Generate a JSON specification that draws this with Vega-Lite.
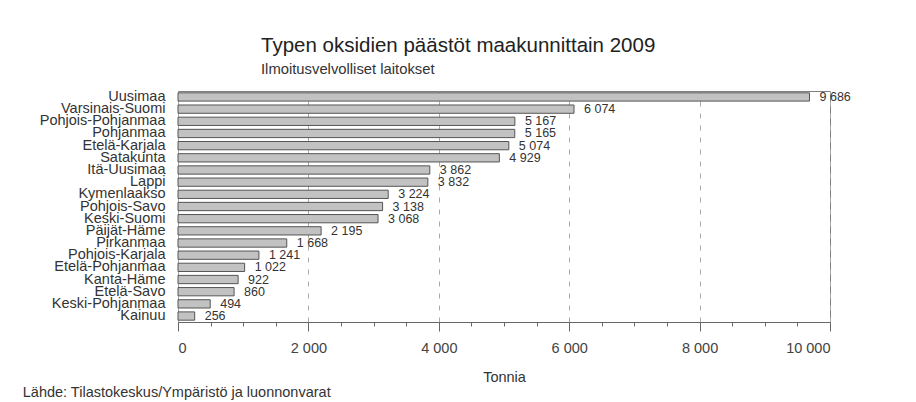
{
  "$schema": "https://vega.github.io/schema/vega-lite/v6.json",
  "background": "white",
  "padding": {"left": 22, "top": 35, "right": 10, "bottom": 2},
  "config": {
    "locale": {"number": {"decimal": ",", "thousands": " ", "grouping": [3], "currency": ["", " €"]}},
    "font": "Liberation Sans",
    "view": {"stroke": "#808080", "strokeWidth": 1}
  },
  "title": {
    "text": "Lähde: Tilastokeskus/Ympäristö ja luonnonvarat",
    "orient": "bottom", "anchor": "start", "frame": "bounds", "dx": -16,
    "fontSize": 14.5, "fontWeight": "normal", "color": "#333", "offset": 1
  },
  "vconcat": [
    {
      "width": 652,
      "height": 231,
      "title": {
        "text": "Typen oksidien päästöt maakunnittain 2009",
        "subtitle": "Ilmoitusvelvolliset laitokset",
        "anchor": "start", "frame": "group", "dx": 83,
        "fontSize": 20.5, "fontWeight": "normal", "color": "#222",
        "subtitleFontSize": 14.8, "subtitleColor": "#333", "subtitlePadding": 5,
        "offset": 12
      },
      "data": {
        "values": [
          {"maakunta": "Uusimaa", "tonnia": 9686},
          {"maakunta": "Varsinais-Suomi", "tonnia": 6074},
          {"maakunta": "Pohjois-Pohjanmaa", "tonnia": 5167},
          {"maakunta": "Pohjanmaa", "tonnia": 5165},
          {"maakunta": "Etelä-Karjala", "tonnia": 5074},
          {"maakunta": "Satakunta", "tonnia": 4929},
          {"maakunta": "Itä-Uusimaa", "tonnia": 3862},
          {"maakunta": "Lappi", "tonnia": 3832},
          {"maakunta": "Kymenlaakso", "tonnia": 3224},
          {"maakunta": "Pohjois-Savo", "tonnia": 3138},
          {"maakunta": "Keski-Suomi", "tonnia": 3068},
          {"maakunta": "Päijät-Häme", "tonnia": 2195},
          {"maakunta": "Pirkanmaa", "tonnia": 1668},
          {"maakunta": "Pohjois-Karjala", "tonnia": 1241},
          {"maakunta": "Etelä-Pohjanmaa", "tonnia": 1022},
          {"maakunta": "Kanta-Häme", "tonnia": 922},
          {"maakunta": "Etelä-Savo", "tonnia": 860},
          {"maakunta": "Keski-Pohjanmaa", "tonnia": 494},
          {"maakunta": "Kainuu", "tonnia": 256}
        ]
      },
      "encoding": {
        "y": {
          "field": "maakunta", "type": "nominal",
          "sort": {"field": "tonnia", "order": "descending"},
          "scale": {"paddingInner": 0.32, "paddingOuter": 0.15},
          "axis": {
            "title": null, "ticks": false, "domain": false, "labelPadding": 13,
            "labelFontSize": 14.5, "labelColor": "#333", "labelLimit": 300
          }
        }
      },
      "layer": [
        {
          "mark": {"type": "bar", "fill": "#c2c2c2", "stroke": "#555", "strokeWidth": 1},
          "encoding": {
            "x": {
              "field": "tonnia", "type": "quantitative",
              "scale": {"domain": [0, 10000], "nice": false},
              "axis": {
                "orient": "bottom",
                "values": [0, 2000, 4000, 6000, 8000, 10000],
                "format": ",d",
                "grid": true, "gridDash": [5, 7], "gridColor": "#aaa",
                "domainColor": "#666", "tickColor": "#666", "tickSize": 9,
                "labelFontSize": 14.5, "labelColor": "#444", "labelPadding": 10,
                "title": "Tonnia", "titleFontSize": 14.5, "titleFontWeight": "normal",
                "titleColor": "#333", "titlePadding": 16
              }
            }
          }
        },
        {
          "mark": {"type": "text", "align": "left", "baseline": "middle", "dx": 10, "fontSize": 12.5, "color": "#333"},
          "encoding": {
            "x": {
              "field": "tonnia", "type": "quantitative",
              "axis": {
                "orient": "bottom",
                "values": [500, 1000, 1500, 2500, 3000, 3500, 4500, 5000, 5500, 6500, 7000, 7500, 8500, 9000, 9500],
                "labels": false, "grid": false, "domain": false,
                "tickSize": 4, "tickColor": "#666", "title": null
              }
            },
            "text": {"field": "tonnia", "type": "quantitative", "format": ",d"}
          }
        }
      ],
      "resolve": {"axis": {"x": "independent"}}
    }
  ]
}
